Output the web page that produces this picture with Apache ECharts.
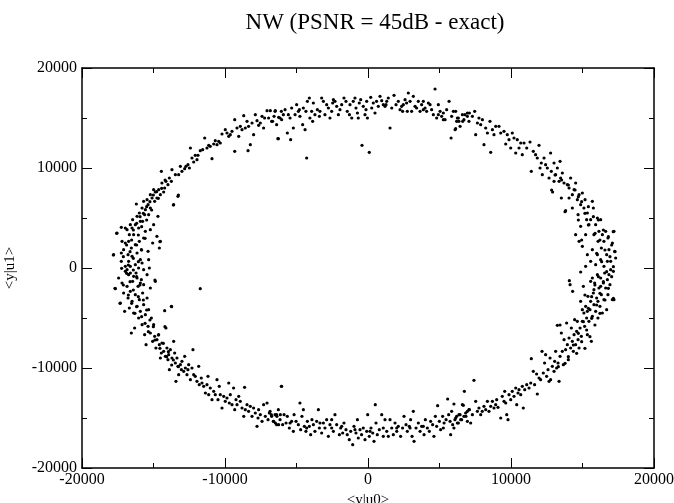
<!DOCTYPE html>
<html><head><meta charset="utf-8">
<script src="https://cdn.jsdelivr.net/npm/echarts@6/dist/echarts.min.js"></script>
<style>html,body{margin:0;padding:0;background:#fff}#c{width:674px;height:503px}</style>
</head><body><div id="c"></div>
<script>
const titleText = "NW (PSNR = 45dB - exact)";
const xName = "<y|u0>";
const yName = "<y|u1>";
const xTicks = [-20000, -10000, 0, 10000, 20000];
const yTicks = [-20000, -10000, 0, 10000, 20000];

const upperLeft = [
[-6060,15670],[-6250,15070],[-6300,12930],[-6480,15730],[-6670,14670],[-6830,15730],[-6950,15000],[-7060,15730],
[-7230,15000],[-7300,14000],[-7410,15170],[-7530,14500],[-7650,14270],[-7760,14730],[-7880,15330],[-8000,13330],
[-8110,14500],[-8230,12330],[-8350,14170],[-8390,11730],[-8460,14670],[-8580,14000],[-8690,15230],[-8810,13830],
[-8930,14170],[-9040,13170],[-9160,14000],[-9320,14830],[-9320,11670],[-9510,13670],[-9630,13330],[-9740,13170],
[-9860,13500],[-9980,13830],[-10210,13400],[-10330,12500],[-10440,12670],[-10560,12330],[-10680,12730],[-10790,12400],
[-10910,10930],[-11030,12170],[-11140,12270],[-11260,12000],[-11420,13000],[-11560,11830],[-11730,11730],[-11890,11270],
[-11960,10830],[-12080,11270],[-12190,10600],[-12310,11000],[-12420,12000],[-12490,10000],[-12590,10330],[-12730,10170],
[-12820,9930],[-13010,9670],[-13120,10170],[-13240,9330],[-13290,7170],[-13470,9330],[-13590,6330],[-13710,9830],
[-13750,8670],[-13890,9000],[-13990,8330],[-14130,8670],[-14220,8000],[-14290,7600],[-14410,8500],[-14450,9670],
[-14520,7330],[-14640,7830],[-14690,5170],[-14760,7000],[-14870,7600],[-14920,6670],[-14990,7830],[-15100,7000],
[-15220,6000],[-15220,7330],[-15340,5330],[-15380,6330],[-15450,6830],[-15570,5830],[-15620,5330],[-15690,6670],
[-15760,4670],[-15800,6000],[-15920,4670],[-15990,5500],[-16040,4000],[-16150,5170],[-16200,6400],[-16270,4330],
[-16390,3330],[-16460,4830],[-16500,4000],[-16620,4330],[-16690,3330],[-16740,2670],[-16850,3830],[-16970,4000],
[-16970,2500],[-17200,2670],[-17250,4070],[-17250,1500],[-17550,3500],[-17790,1330],[-17090,1830],[-16780,1330],
[-16550,2000],[-16270,2330],[-15990,2670],[-15850,1830],[-15690,3000],[-15570,3670],[-15380,1670],[-15220,3830],
[-15060,2500],[-14990,4330],[-14760,3170],[-14590,2000],[-14520,2670],[-15340,830],[-15800,500],[-16270,330],
[-16740,670],[-16970,170],[-17250,670],[-16500,1170],[-16150,1500],[-15920,830],[-16620,170],
[-14190,8800],[-14430,7970],[-14780,7630],[-15010,7300],[-14660,6970],[-15250,6630],[-15480,6130],[-15130,5800],
[-15710,5470],[-15940,5130],[-15480,4800],[-16180,4470],[-15830,4130],[-16410,3800],[-16060,3300],[-15590,2970],
[-16530,2800],[-16880,2300],[-16180,2300],[-15830,1800],[-16640,1630],[-17110,1130],[-16410,970],[-16060,630],
[-16760,300],[-17580,3470],[-17810,1300],[-14550,2630],[-13260,7300],[-13610,6300]
];

const upperMid = [
[-6740,14670],[-6500,15670],[-6390,14330],[-6270,12930],[-6150,15000],[-5920,15330],[-5800,15830],[-5640,13500],
[-5570,15330],[-5410,12830],[-5340,16000],[-5220,14000],[-5100,15330],[-4990,16330],[-4870,15670],[-4760,15170],
[-4570,14330],[-4520,16000],[-4400,13830],[-4290,11000],[-4240,16670],[-4100,17000],[-4060,15000],[-3940,15670],
[-3820,16500],[-3710,15330],[-3540,15830],[-3360,15670],[-3240,17000],[-3120,16670],[-3010,15330],[-2890,16330],
[-2770,16000],[-2660,15000],[-2540,15670],[-2420,16830],[-2310,16670],[-2190,16170],[-2070,15330],[-1960,15830],
[-1840,16330],[-1680,17000],[-1540,16670],[-1450,15670],[-1260,16330],[-1140,15000],[-1030,16670],[-910,17000],
[-840,16000],[-740,15500],[-610,16500],[-510,16830],[-420,12270],[-330,16170],[-210,15330],[-90,16670],
[-40,15000],[90,11570],[190,17070],[260,16000],[370,16500],[490,15500],[720,16170],[840,17170],
[960,16730],[1070,16330],[1190,16170],[1310,16670],[1420,17000],[1540,14000],[1660,16000],[1820,17270],
[1960,16330],[2120,16670],[2240,15830],[2420,15670],[2470,16330],[2590,16830],[2700,16500],[2820,17500],
[2940,16670],[3050,15670],[3170,17170],[3290,16170],[3400,16000],[3520,16670],[3640,15670],[3750,16330],
[3870,15830],[3990,16000],[4100,15670],[4220,16500],[4340,16330],[4450,15830],[4570,15330],[4690,17900],
[4800,15000],[4920,16330],[5040,15670],[5150,15170],[5270,15500],[5390,14830],[5500,15830],[5670,16670],
[5810,13000],[5850,15170],[5970,15670],[6090,13830],[6200,14670],[6320,15000],[6440,14170],[6620,14670],
[6780,15330],[6950,15170],[7090,15500],
[-6570,15170],[-6040,14830],[-5450,15000],[-4800,15830],[-4340,15670],[-3870,14670],[-3400,15170],[-2470,16500],
[-1300,15330],[-680,15000],[-140,15830],[600,16670],[1260,16330],[2350,16170],[2750,15670],[3870,16670],
[4920,15330],[5270,14830]
];

const upperRight = [
[6130,15670],[6250,15000],[6130,13930],[6360,14670],[6600,15330],[6710,14830],[6950,15500],[7060,14670],
[7300,15170],[7460,15670],[7530,13330],[7650,14500],[7760,15000],[7880,14330],[8000,14830],[8110,12330],
[8230,14000],[8350,13500],[8530,14670],[8580,11570],[8700,13830],[8810,13330],[8930,14170],[9160,14170],
[9280,13500],[9510,13670],[9630,12400],[9740,13330],[9860,12830],[9980,12000],[10090,13500],[10210,13000],
[10330,11500],[10440,12830],[10560,12000],[10680,12500],[10790,11330],[10910,12500],[11100,12000],[11330,12600],
[11420,9670],[11560,11670],[11720,11330],[11840,11000],[11960,12270],[12030,10000],[12120,10500],[12190,9330],
[12310,11000],[12420,10330],[12540,10000],[12660,9000],[12770,11500],[12820,9670],[12910,7600],[13010,10500],
[13120,9330],[13240,10000],[13360,8670],[13430,10670],[13520,7000],[13590,9500],[13710,8500],[13820,5730],
[13940,8330],[14060,8000],[14170,9000],[14290,7330],[14410,7830],[14520,8500],[14640,6830],[14690,5330],
[14760,7330],[14870,6330],[14990,7500],[15100,6000],[15180,6830],[15290,4830],[15340,5500],[15450,4330],
[15570,4830],[15690,6670],[15760,6000],[15800,3330],[15920,4330],[16040,5000],[16090,2670],[16150,3670],
[16270,4830],[16320,2000],[16390,3330],[16500,2670],[16620,3670],[16690,1330],[16780,3000],[16850,1830],
[16970,670],[17090,2500],[17200,3670],[17250,1670],[17320,1000],[14520,3330],[14760,2670],[14870,4170],
[14990,2170],[15220,3330],[15340,1330],[15570,670],[15690,1830],[15920,330],[16040,1330],[16270,830],
[16500,170],[16740,670],[15220,170],[14290,6000],[14060,7000],[13010,8670],[13470,9000],
[13080,9300],[13540,8800],[14010,8300],[14480,7800],[14710,7130],[14940,6630],[15410,6130],[15170,5470],
[15760,5130],[16110,4800],[15410,4300],[16460,3800],[15880,3470],[16810,3130],[16220,2800],[17040,2300],
[16570,1800],[15990,1470],[16920,1130],[16340,630],[17160,130],[14940,2800],[14710,4800],[17150,3630],
[17270,1630],[13780,5630],[12840,7800]
];

const lowerLeft = [
[-17670,-2070],[-17440,-1000],[-17320,-3500],[-17200,-1500],[-17090,-2500],[-17020,-4330],[-16970,-330],[-16850,-1830],
[-16780,-3000],[-16740,-670],[-16690,-4000],[-16620,-2330],[-16550,-6500],[-16500,-3330],[-16460,-1330],[-16390,-4500],
[-16320,-6000],[-16270,-2670],[-16220,-500],[-16150,-3830],[-16080,-1830],[-16040,-5000],[-15990,-3170],[-15920,-4330],
[-15850,-1170],[-15800,-5670],[-15760,-2500],[-15690,-3670],[-15620,-6670],[-15570,-4670],[-15520,-7670],[-15450,-3000],
[-15380,-5830],[-15340,-4170],[-15290,0],[-15220,-6500],[-15150,-5000],[-15060,-7330],[-14990,-5670],[-14920,-6830],
[-14870,-1330],[-14830,-8000],[-14760,-7170],[-14640,-6670],[-14590,-7670],[-14520,-9000],[-14450,-8500],[-14410,-7500],
[-14290,-8330],[-14220,-4270],[-14170,-8830],[-14130,-6000],[-14060,-8000],[-13990,-9170],[-13940,-8670],[-13890,-10170],
[-13820,-8170],[-13750,-3830],[-13710,-9000],[-13590,-7330],[-13520,-8500],[-13470,-9500],[-13430,-11330],[-13360,-9000],
[-13290,-9830],[-13240,-10670],[-13120,-9670],[-13050,-10170],[-13010,-9330],[-12890,-10330],[-12820,-8830],[-12770,-10000],
[-12660,-10670],[-12590,-10170],[-12540,-9670],[-12420,-11170],[-12310,-10000],[-12240,-8170],[-12190,-10670],[-12080,-10830],
[-11960,-11330],[-11840,-9830],[-11800,-11670],[-11730,-2070],[-11660,-11000],[-11610,-11500],[-11490,-11830],[-11370,-12500],
[-11260,-11670],[-11190,-10830],[-11140,-12670],[-11030,-12000],[-10910,-13170],[-10790,-12330],[-10680,-12670],[-10560,-11170],
[-10490,-13170],[-10400,-11830],[-10330,-12670],[-10210,-14000],[-10090,-12830],[-9980,-13330],[-9860,-13000],[-9740,-11500],
[-9700,-13500],[-9630,-12670],[-9510,-13670],[-9400,-12000],[-9320,-14170],[-9230,-13170],[-9160,-13670],[-9040,-12830],
[-8930,-13330],[-8810,-14000],[-8690,-14830],[-8630,-11930],[-8580,-14170],[-8460,-13670],[-8350,-14330],[-8230,-13830],
[-8110,-14830],[-8000,-14000],[-7880,-14500],[-7760,-15830],[-7690,-15000],[-7650,-14170],[-7530,-14670],[-7410,-15330],
[-7300,-13670],[-7180,-14830],[-7060,-13500],[-6990,-15170],[-6900,-14500],[-6760,-14670],[-6600,-15330],[-6480,-15500],
[-6370,-14830],[-6250,-15670],[-6130,-14670],[-6060,-11830],
[-16850,-170],[-16620,-500],[-16390,-830],[-16150,-1000],[-15920,-1500],[-15690,-1670],[-15450,-670],[-16040,0],
[-15690,-170],[-15220,-2000],
[-17230,-30],[-16410,-200],[-16880,-530],[-16180,-870],[-16640,-1370],[-17110,-1700],[-15950,-1700],[-16410,-2200],
[-16760,-2700],[-16060,-2870],[-15710,-3200],[-16530,-3530],[-16180,-3870],[-15480,-4200],[-16300,-4530],[-15830,-4870],
[-15250,-5200],[-15590,-5530],[-15010,-5870],[-15360,-6370],[-14660,-6700],[-14900,-7200],[-14310,-7530],[-14550,-8030],
[-13960,-8370],[-14080,-8870],[-13610,-9200],[-13730,-9700],[-13260,-9870],[-17690,-2030],[-17340,-3530],[-14900,-1200],
[-13730,-3870],[-14200,-5870]
];

const lowerMid = [
[-6850,-14330],[-6740,-14830],[-6620,-15330],[-6500,-14670],[-6390,-15670],[-6270,-14170],[-6150,-15170],[-6040,-11830],
[-5970,-15670],[-5870,-14670],[-5730,-15500],[-5640,-14830],[-5500,-16000],[-5340,-15330],[-5220,-16330],[-5170,-14670],
[-5030,-15330],[-4870,-15670],[-4760,-13500],[-4710,-16170],[-4620,-14830],[-4520,-14170],[-4450,-15830],[-4340,-16330],
[-4240,-15330],[-4100,-15830],[-4010,-16670],[-3920,-15170],[-3820,-15670],[-3710,-16330],[-3590,-15330],[-3470,-14170],
[-3400,-16000],[-3240,-16500],[-3120,-15500],[-3010,-16000],[-2890,-15170],[-2770,-16830],[-2660,-15670],[-2540,-15170],
[-2420,-16330],[-2310,-14670],[-2190,-15670],[-2000,-16670],[-1910,-16000],[-1770,-16500],[-1680,-15500],[-1540,-16170],
[-1450,-16670],[-1310,-17170],[-1210,-16330],[-1070,-17670],[-980,-15830],[-840,-16500],[-740,-15170],[-680,-17000],
[-560,-16170],[-450,-16670],[-330,-16000],[-210,-17170],[-90,-16330],[-20,-14670],[90,-16830],[210,-16000],
[330,-16500],[420,-17330],[510,-13670],[560,-15500],[650,-16670],[790,-16170],[960,-14670],[1070,-16830],
[1190,-15170],[1310,-16330],[1420,-16830],[1540,-15170],[1660,-16000],[1770,-16670],[1890,-15500],[2010,-16330],
[2120,-15830],[2280,-16830],[2420,-16000],[2520,-14830],[2660,-15670],[2750,-16330],[2890,-15830],[2980,-15170],
[3080,-16830],[3170,-14330],[3220,-17330],[3360,-16000],[3520,-15500],[3640,-16330],[3750,-15830],[3920,-16670],
[4010,-15170],[4150,-16000],[4290,-16330],[4380,-15330],[4520,-15670],[4610,-16830],[4710,-14830],[4800,-15830],
[4870,-13770],[4990,-15330],[5080,-16170],[5220,-14830],[5320,-15500],[5460,-15170],[5570,-13100],[5640,-14670],
[5780,-16670],[5850,-14330],[5920,-15670],[6010,-13600],[6080,-15170],[6200,-14830],[6320,-15500],[6440,-14670],
[6550,-15170],[6670,-13730],[6740,-12330],[6850,-14830],[6950,-14330],[7090,-14170],
[-6390,-14670],[-5450,-15500],[-4290,-16000],[-3360,-15500],[-2540,-16000],[-1840,-15830],[-910,-16170],[140,-16330],
[1070,-16000],[2010,-16000],[2940,-16000],[3870,-15830],[5270,-16000],[5740,-15330]
];

const lowerRight = [
[6010,-16000],[6130,-15000],[6250,-15500],[6360,-14670],[6480,-15170],[6600,-13670],[6710,-14830],[6830,-14500],
[6950,-15330],[7060,-14170],[7180,-15500],[7300,-14670],[7410,-11230],[7530,-13330],[7650,-14330],[7760,-14000],
[7880,-14670],[7990,-14330],[8110,-13830],[8230,-14170],[8350,-13330],[8460,-14330],[8580,-13830],[8700,-13330],
[8810,-14000],[8930,-13670],[9000,-13170],[9090,-13930],[9280,-15000],[9390,-12830],[9510,-13330],[9560,-12330],
[9630,-13500],[9700,-14670],[9790,-15170],[9860,-12670],[9980,-13170],[10090,-12330],[10210,-12830],[10330,-12000],
[10400,-13670],[10490,-12500],[10560,-12170],[10680,-12670],[10790,-11830],[10860,-14000],[10960,-12170],[11100,-11670],
[11260,-12000],[11380,-11500],[11420,-9070],[11560,-10330],[11650,-11670],[11790,-10600],[11840,-12600],[11960,-11000],
[12070,-11170],[12170,-8330],[12260,-10500],[12350,-9500],[12420,-8670],[12490,-10830],[12590,-10170],[12660,-11330],
[12730,-9000],[12770,-11170],[12890,-9830],[13010,-10330],[13050,-9330],[13120,-8330],[13190,-10000],[13240,-5730],
[13290,-9500],[13360,-11330],[13430,-8830],[13520,-6500],[13590,-8330],[13660,-9670],[13710,-7170],[13820,-8170],
[13890,-5500],[13940,-7670],[14010,-9170],[14060,-7000],[14080,-1270],[14130,-1670],[14170,-8000],[14220,-6000],
[14290,-7330],[14310,-2330],[14360,-8330],[14410,-6670],[14450,-5170],[14520,-7670],[14590,-6330],[14640,-5330],
[14690,-7170],[14760,-8000],[14830,-6000],[14870,-400],[14920,-6830],[14990,-5330],[15060,-1830],[15100,-4500],
[15150,-5830],[15220,-3830],[15290,-5000],[15340,-6670],[15380,-2830],[15450,-5330],[15520,-4170],[15570,-3330],
[15620,-7330],[15690,-4830],[15760,-2500],[15800,-3670],[15850,-1500],[15920,-4330],[15990,-3000],[16040,-670],
[16080,-5000],[16150,-2000],[16220,-3830],[16270,-1000],[16320,-2670],[16390,-4500],[16460,-1500],[16500,-3170],
[16550,-500],[16620,-2000],[16690,-4170],[16740,-1170],[16780,-2670],[16850,-670],[16920,-1670],[16970,-170],
[17090,-3170],[17160,-330],[17200,-3170],
[15570,-1330],[15800,-2170],[16080,-3330],[16270,-1830],[15340,-4330],[14870,-3330],[14990,-4170],[15690,-1000],
[16690,-370],[16110,-870],[16460,-1370],[15870,-1700],[16810,-2030],[16220,-2530],[15640,-2870],[16570,-3200],
[15990,-3700],[15410,-4030],[16220,-4530],[15640,-5030],[15060,-5370],[15870,-5700],[15290,-6200],[14710,-6530],
[15520,-6870],[14940,-7370],[14360,-7700],[15170,-8030],[14590,-8530],[14010,-8870],[13780,-9530],[13310,-9870],
[13430,-5700],[15170,-2700],[17040,-870],[17160,-3030]
];

const points = [].concat(upperLeft, upperMid, upperRight, lowerLeft, lowerMid, lowerRight);

const serif = '"Liberation Serif","DejaVu Serif",serif';
function mkAxis(ticks, opts) {
  return Object.assign({
    type: 'value',
    min: ticks[0], max: ticks[ticks.length - 1],
    interval: ticks[1] - ticks[0],
    axisLine: { show: true, onZero: false, lineStyle: { color: '#000', width: 1.5 } },
    axisTick: { show: true, inside: true, length: 10, lineStyle: { color: '#000', width: 1 } },
    minorTick: { show: true, splitNumber: 2, length: 5, lineStyle: { color: '#000', width: 1 } },
    splitLine: { show: false },
    minorSplitLine: { show: false }
  }, opts);
}
const plain = v => String(v);

const chart = echarts.init(document.getElementById('c'), null, { renderer: 'canvas' });
chart.setOption({
  animation: false,
  backgroundColor: '#fff',
  title: {
    text: titleText, left: 370, top: 6, textAlign: 'center',
    textStyle: { fontFamily: serif, fontSize: 23, fontWeight: 'normal', color: '#000' }
  },
  grid: { left: 82, right: 20, top: 68, bottom: 35, containLabel: false, outerBoundsMode: 'none' },
  xAxis: [
    mkAxis(xTicks, {
      position: 'bottom',
      name: xName, nameLocation: 'middle', nameGap: 21,
      nameTextStyle: { fontFamily: serif, fontSize: 15, color: '#000' },
      axisLabel: { show: true, margin: 4, fontFamily: serif, fontSize: 16, color: '#000', formatter: plain }
    }),
    mkAxis(xTicks, { position: 'top', axisLabel: { show: false } })
  ],
  yAxis: [
    mkAxis(yTicks, {
      position: 'left',
      name: yName, nameLocation: 'middle', nameGap: 64, nameRotate: 90,
      nameTextStyle: { fontFamily: serif, fontSize: 15, color: '#000' },
      axisLabel: { show: true, margin: 5, fontFamily: serif, fontSize: 16, color: '#000', formatter: plain }
    }),
    mkAxis(yTicks, { position: 'right', axisLabel: { show: false } })
  ],
  series: [{
    type: 'scatter',
    xAxisIndex: 0, yAxisIndex: 0,
    data: points,
    symbol: 'circle',
    symbolSize: 3.2,
    itemStyle: { color: '#000', opacity: 1 }
  }]
});
</script>
</body></html>
